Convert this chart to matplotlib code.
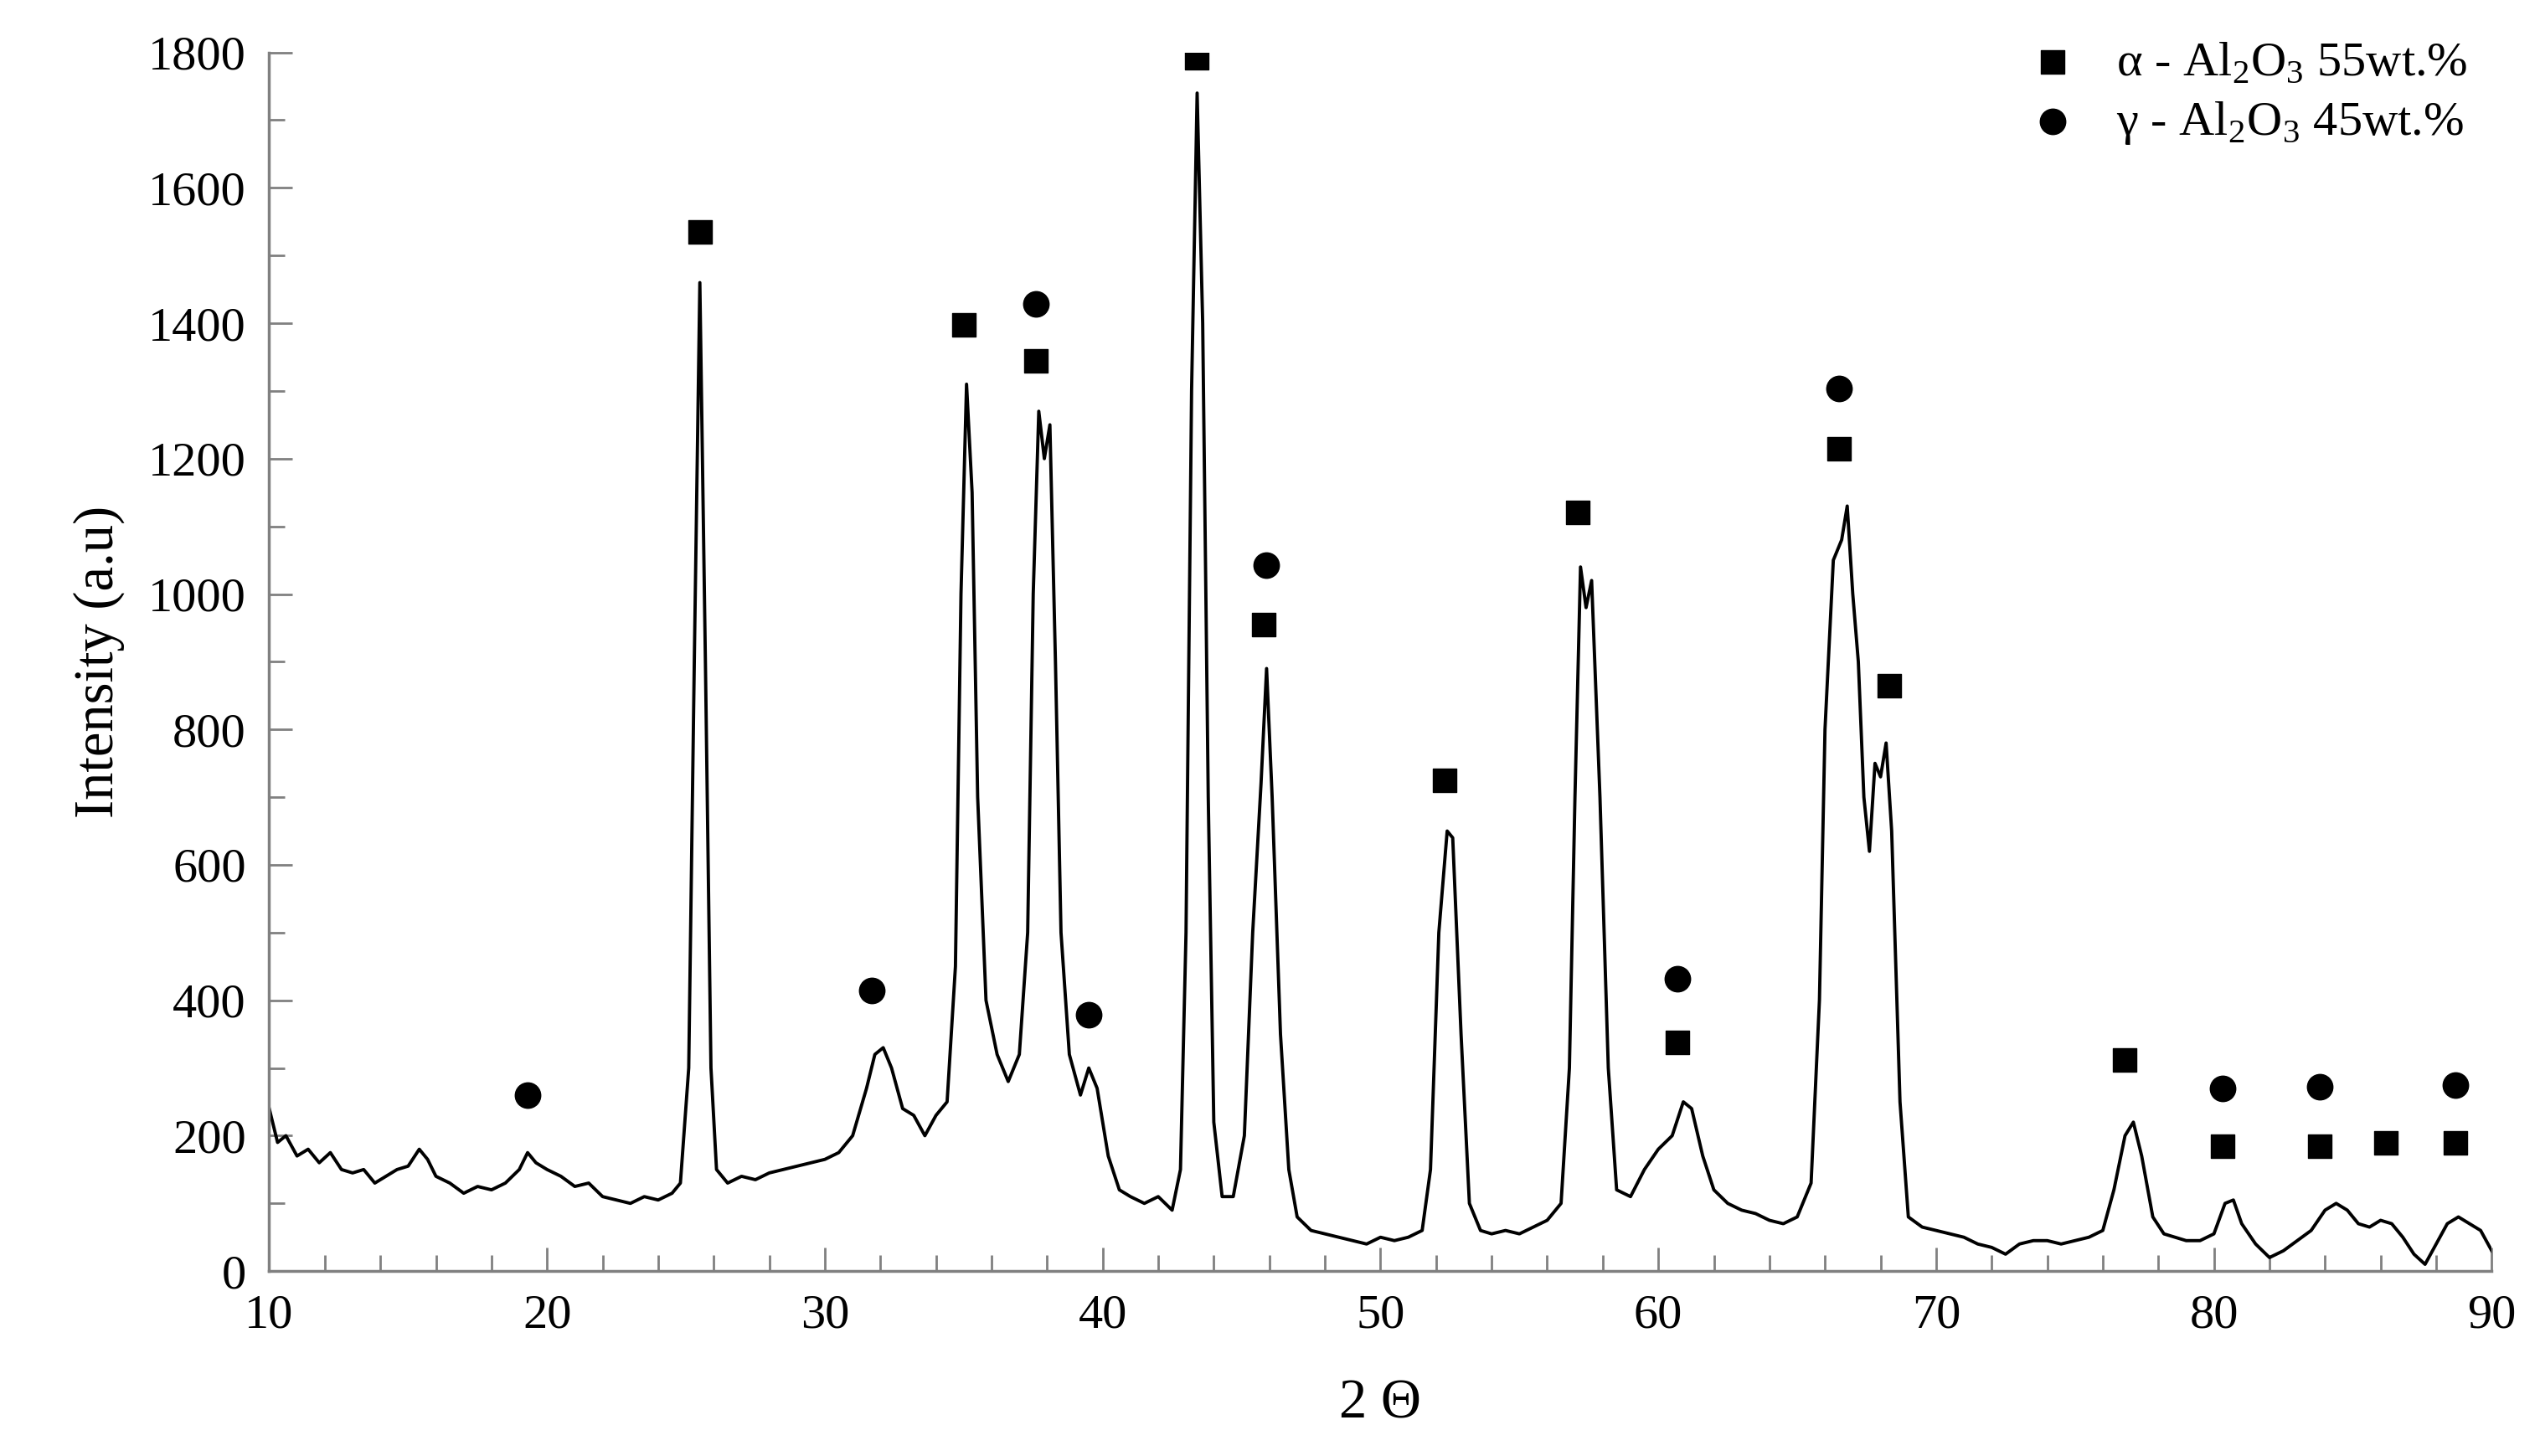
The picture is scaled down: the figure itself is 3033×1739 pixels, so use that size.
import matplotlib
matplotlib.use("Agg")
import matplotlib.pyplot as plt
from matplotlib.ticker import MultipleLocator

plt.rcParams['font.family'] = ['Liberation Serif', 'DejaVu Serif']
plt.rcParams['mathtext.fontset'] = 'custom'
plt.rcParams['mathtext.rm'] = 'Liberation Serif'

two_theta = [10,10.3,10.6,11,11.4,11.8,12.2,12.6,13,13.4,13.8,14.2,14.6,15,15.4,15.7,16,16.5,17,17.5,18,18.5,19,19.3,19.6,20,20.5,21,21.5,22,22.5,23,23.5,24,24.5,24.8,25.1,25.3,25.5,25.7,25.9,26.1,26.5,27,27.5,28,28.5,29,29.5,30,30.5,31,31.5,31.8,32.1,32.4,32.8,33.2,33.6,34,34.4,34.7,34.9,35.1,35.3,35.5,35.8,36.2,36.6,37,37.3,37.5,37.7,37.9,38.1,38.3,38.5,38.8,39.2,39.5,39.8,40.2,40.6,41,41.5,42,42.5,42.8,43,43.2,43.4,43.6,43.8,44,44.3,44.7,45.1,45.4,45.7,45.9,46.1,46.4,46.7,47,47.5,48,48.5,49,49.5,50,50.5,51,51.5,51.8,52.1,52.4,52.6,52.9,53.2,53.6,54,54.5,55,55.5,56,56.5,56.8,57,57.2,57.4,57.6,57.9,58.2,58.5,59,59.5,60,60.5,60.9,61.2,61.6,62,62.5,63,63.5,64,64.5,65,65.5,65.8,66,66.3,66.6,66.8,67,67.2,67.4,67.6,67.8,68,68.2,68.4,68.7,69,69.5,70,70.5,71,71.5,72,72.5,73,73.5,74,74.5,75,75.5,76,76.4,76.8,77.1,77.4,77.8,78.2,78.6,79,79.5,80,80.4,80.7,81,81.5,82,82.5,83,83.5,84,84.4,84.8,85.2,85.6,86,86.4,86.8,87.2,87.6,88,88.4,88.8,89.2,89.6,90]
intensity = [240,190,200,170,180,160,175,150,145,150,130,140,150,155,180,165,140,130,115,125,120,130,150,175,160,150,140,125,130,110,105,100,110,105,115,130,300,900,1460,900,300,150,130,140,135,145,150,155,160,165,175,200,270,320,330,300,240,230,200,230,250,450,1000,1310,1150,700,400,320,280,320,500,1000,1270,1200,1250,900,500,320,260,300,270,170,120,110,100,110,90,150,500,1300,1740,1400,700,220,110,110,200,500,720,890,700,350,150,80,60,55,50,45,40,50,45,50,60,150,500,650,640,350,100,60,55,60,55,65,75,100,300,700,1040,980,1020,700,300,120,110,150,180,200,250,240,170,120,100,90,85,75,70,80,130,400,800,1050,1080,1130,1000,900,700,620,750,730,780,650,250,80,65,60,55,50,40,35,25,40,45,45,40,45,50,60,120,200,220,170,80,55,50,45,45,55,100,105,70,40,20,30,45,60,90,100,90,70,65,75,70,50,25,10,40,70,80,70,60,30]

alpha_x = [25.5,35.0,37.6,43.4,45.8,52.3,57.1,60.7,66.5,68.3,76.8,80.3,83.8,86.2,88.7]
alpha_y = [1535,1398,1345,1792,955,725,1120,338,1215,865,312,185,185,190,190]
gamma_x = [19.3,31.7,37.6,39.5,45.9,60.7,66.5,80.3,83.8,88.7]
gamma_y = [260,415,1428,378,1043,432,1303,270,272,275]

fig = plt.figure(figsize=(30.33, 17.39), dpi=100)
ax = fig.add_axes([0.106, 0.127, 0.875, 0.837])
ax.plot(two_theta, intensity, color='black', lw=2.8)
ax.scatter(alpha_x, alpha_y, marker='s', s=420, color='black', zorder=3,
           label='α - Al$_2$O$_3$ 55wt.%')
ax.scatter(gamma_x, gamma_y, marker='o', s=480, color='black', zorder=3,
           label='γ - Al$_2$O$_3$ 45wt.%')
ax.set_xlim(10, 90)
ax.set_ylim(0, 1800)
ax.xaxis.set_major_locator(MultipleLocator(10))
ax.xaxis.set_minor_locator(MultipleLocator(2))
ax.yaxis.set_major_locator(MultipleLocator(200))
ax.yaxis.set_minor_locator(MultipleLocator(100))
for s in ['top', 'right']:
    ax.spines[s].set_visible(False)
for s in ['left', 'bottom']:
    ax.spines[s].set_color('#808080')
    ax.spines[s].set_linewidth(2.5)
ax.tick_params(axis='both', which='both', direction='in', color='#808080', width=2)
ax.tick_params(axis='both', which='major', length=20, labelsize=42, pad=20)
ax.tick_params(axis='both', which='minor', length=14)
ax.set_xlabel('2 Θ', fontsize=48, labelpad=35)
ax.set_ylabel('Intensity (a.u)', fontsize=48, labelpad=20)
leg = ax.legend(loc='upper right', fontsize=42, frameon=False, handletextpad=0.3,
                borderaxespad=0.1, labelspacing=0.3, bbox_to_anchor=(1.0, 1.03))
fig.savefig('out.png', dpi=100)
